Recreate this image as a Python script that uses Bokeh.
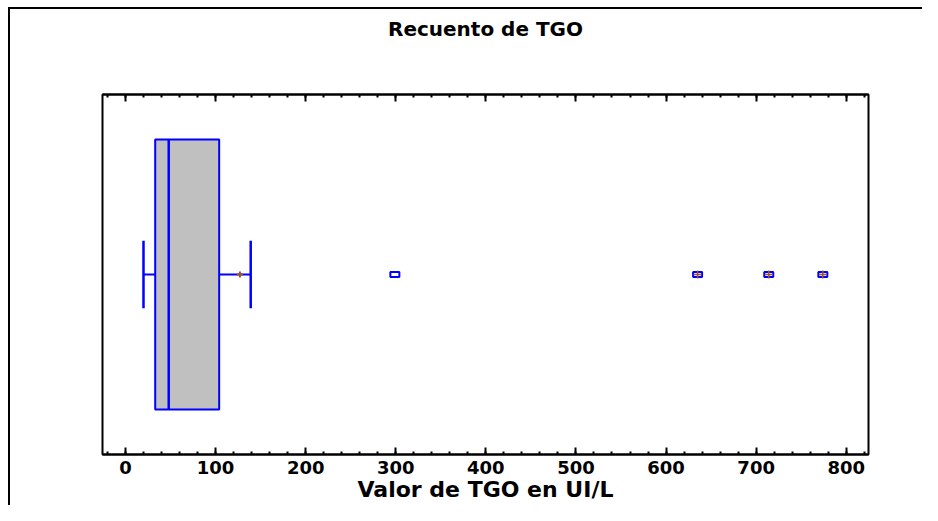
from bokeh.plotting import figure
from bokeh.layouts import column
from bokeh.models import Range1d, FactorRange, LinearAxis, SingleIntervalTicker, ColumnDataSource, Title
from bokeh.embed import file_html
from bokeh.resources import INLINE

# ---- data ----
category = ["TGO"]
q1 = [33]
median = [48]
q3 = [104]
whisker_low = [20]
whisker_high = [139]
mean = [127]
outliers_near = [299]
outliers_far = [635, 714, 774]

title_text = "Recuento de TGO"
xlabel = "Valor de TGO en UI/L"

FONT = "DejaVu Sans"
BLUE = "#0000FF"
BROWN = "#A0522D"

p = figure(width=914, height=498, output_backend="svg", toolbar_location=None,
           x_range=Range1d(-25.5, 824.7), y_range=FactorRange(factors=category),
           y_axis_location=None, min_border_left=92, min_border_right=56,
           min_border_top=85, min_border_bottom=53, title=None)
p.styles = {"border-top": "2px solid black", "border-left": "2px solid black"}

p.grid.visible = False
p.outline_line_color = "black"
p.outline_line_width = 2
p.background_fill_color = "white"
p.border_fill_color = "white"

ax = p.xaxis[0]
ax.ticker = SingleIntervalTicker(interval=100, num_minor_ticks=5)
ax.axis_line_width = 2
ax.major_tick_in = 7
ax.major_tick_out = 0
ax.minor_tick_in = 3
ax.minor_tick_out = 0
ax.major_tick_line_width = 2
ax.minor_tick_line_width = 2
ax.major_label_text_font = FONT
ax.major_label_text_font_style = "bold"
ax.major_label_text_font_size = "18px"
ax.major_label_text_color = "black"
ax.major_label_standoff = 6
ax.axis_label = xlabel
ax.axis_label_text_font = FONT
ax.axis_label_text_font_style = "bold"
ax.axis_label_text_font_size = "22px"
ax.axis_label_text_color = "black"
ax.axis_label_standoff = 0

top = LinearAxis(ticker=SingleIntervalTicker(interval=100, num_minor_ticks=5),
                 axis_line_width=2, major_tick_in=7, major_tick_out=0,
                 minor_tick_in=3, minor_tick_out=0,
                 major_tick_line_width=2, minor_tick_line_width=2,
                 major_label_text_font_size="1px", major_label_text_alpha=0,
                 major_label_standoff=0)
p.add_layout(top, "above")

spacer = Title(text=" ", text_font_size="35px")
p.add_layout(spacer, "above")
ttl = Title(text=title_text, align="center", text_font=FONT, text_font_style="bold",
            text_font_size="20px", text_color="black", standoff=6)
p.add_layout(ttl, "above")

src = ColumnDataSource(dict(cat=category, q1=q1, med=median, q3=q3,
                            lo=whisker_low, hi=whisker_high, mean=mean))
src.data["cap_lo"] = [(c, -0.094) for c in category]
src.data["cap_hi"] = [(c, 0.094) for c in category]
src.data["box_lo"] = [(c, -0.375) for c in category]
src.data["box_hi"] = [(c, 0.375) for c in category]

# whiskers
p.segment(x0="lo", x1="q1", y0="cat", y1="cat", source=src, line_color=BLUE, line_width=2)
p.segment(x0="q3", x1="hi", y0="cat", y1="cat", source=src, line_color=BLUE, line_width=2)
p.segment(x0="lo", x1="lo", y0="cap_lo", y1="cap_hi", source=src, line_color=BLUE, line_width=2.5)
p.segment(x0="hi", x1="hi", y0="cap_lo", y1="cap_hi", source=src, line_color=BLUE, line_width=2.5)
# box
p.hbar(y="cat", left="q1", right="q3", height=0.75, source=src,
       fill_color="#C0C0C0", line_color=BLUE, line_width=2)
p.segment(x0="med", x1="med", y0="box_lo", y1="box_hi", source=src, line_color=BLUE, line_width=2.5)
# mean
p.scatter(x="mean", y="cat", marker="cross", size=6, source=src, line_color=BROWN, line_width=2)

# outliers
near = ColumnDataSource(dict(x=outliers_near, cat=category * len(outliers_near)))
far = ColumnDataSource(dict(x=outliers_far, cat=category * len(outliers_far)))
p.rect(x="x", y="cat", width=9, height=5, width_units="screen", height_units="screen",
       source=near, fill_color=None, line_color=BLUE, line_width=2)
p.rect(x="x", y="cat", width=9, height=5, width_units="screen", height_units="screen",
       source=far, fill_color=None, line_color=BLUE, line_width=2)
p.scatter(x="x", y="cat", marker="cross", size=8, source=far, line_color=BROWN, line_width=1.5)

root = column(p, styles={"padding-left": "8px", "padding-top": "7px", "background": "white"})
open("out.html", "w").write(file_html(root, INLINE))
